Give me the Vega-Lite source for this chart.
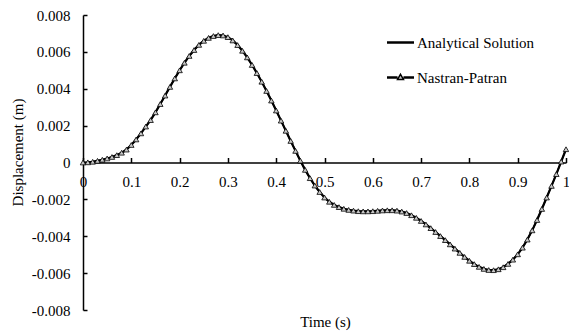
{
  "$schema": "https://vega.github.io/schema/vega-lite/v6.json",
  "width": 483,
  "height": 295,
  "autosize": {"type": "none"},
  "padding": {"left": 83, "top": 15, "right": 3, "bottom": 21},
  "background": "white",
  "config": {
    "view": {"stroke": null},
    "font": "Liberation Serif",
    "axis": {"labelFont": "Liberation Serif", "titleFont": "Liberation Serif", "labelFontSize": 15, "titleFontSize": 15, "labelColor": "black", "titleColor": "black", "titleFontWeight": "normal", "domainColor": "black", "tickColor": "black", "grid": false, "domainWidth": 1.5, "tickWidth": 1.5, "labelOverlap": false},
    "legend": {"labelFont": "Liberation Serif", "labelFontSize": 15, "labelColor": "black"}
  },
  "data": {"values": [
    {"t":0.00,"a":0,"n":0},
    {"t":0.01,"a":0.00001,"n":0.00001},
    {"t":0.02,"a":0.00004,"n":0.00004},
    {"t":0.03,"a":0.00009,"n":0.00009},
    {"t":0.04,"a":0.00015,"n":0.00015},
    {"t":0.05,"a":0.00022,"n":0.00022},
    {"t":0.06,"a":0.0003,"n":0.0003},
    {"t":0.07,"a":0.0004,"n":0.0004},
    {"t":0.08,"a":0.00053,"n":0.00053},
    {"t":0.09,"a":0.0007,"n":0.0007},
    {"t":0.10,"a":0.00095,"n":0.00095},
    {"t":0.11,"a":0.00125,"n":0.00125},
    {"t":0.12,"a":0.00158,"n":0.00158},
    {"t":0.13,"a":0.00195,"n":0.00195},
    {"t":0.14,"a":0.0023,"n":0.0023},
    {"t":0.15,"a":0.00272,"n":0.00272},
    {"t":0.16,"a":0.00317,"n":0.00317},
    {"t":0.17,"a":0.00363,"n":0.00363},
    {"t":0.18,"a":0.0041,"n":0.0041},
    {"t":0.19,"a":0.00456,"n":0.00456},
    {"t":0.20,"a":0.005,"n":0.005},
    {"t":0.21,"a":0.00541,"n":0.00541},
    {"t":0.22,"a":0.00578,"n":0.00578},
    {"t":0.23,"a":0.0061,"n":0.0061},
    {"t":0.24,"a":0.00638,"n":0.00638},
    {"t":0.25,"a":0.0066,"n":0.0066},
    {"t":0.26,"a":0.00676,"n":0.00676},
    {"t":0.27,"a":0.00686,"n":0.00686},
    {"t":0.28,"a":0.00691,"n":0.00691},
    {"t":0.29,"a":0.00689,"n":0.00689},
    {"t":0.30,"a":0.0068,"n":0.0068},
    {"t":0.31,"a":0.00662,"n":0.00662},
    {"t":0.32,"a":0.00637,"n":0.00637},
    {"t":0.33,"a":0.00606,"n":0.00606},
    {"t":0.34,"a":0.0057,"n":0.0057},
    {"t":0.35,"a":0.00529,"n":0.00529},
    {"t":0.36,"a":0.00485,"n":0.00485},
    {"t":0.37,"a":0.00438,"n":0.00438},
    {"t":0.38,"a":0.00388,"n":0.00388},
    {"t":0.39,"a":0.00336,"n":0.00336},
    {"t":0.40,"a":0.00282,"n":0.00282},
    {"t":0.41,"a":0.00227,"n":0.00227},
    {"t":0.42,"a":0.00172,"n":0.00172},
    {"t":0.43,"a":0.00117,"n":0.00117},
    {"t":0.44,"a":0.00063,"n":0.00063},
    {"t":0.45,"a":0.0001,"n":0.0001},
    {"t":0.46,"a":-0.0004,"n":-0.0004},
    {"t":0.47,"a":-0.00085,"n":-0.00085},
    {"t":0.48,"a":-0.00125,"n":-0.00125},
    {"t":0.49,"a":-0.0016,"n":-0.0016},
    {"t":0.50,"a":-0.0019,"n":-0.0019},
    {"t":0.51,"a":-0.00213,"n":-0.00213},
    {"t":0.52,"a":-0.0023,"n":-0.0023},
    {"t":0.53,"a":-0.00242,"n":-0.00242},
    {"t":0.54,"a":-0.00251,"n":-0.00251},
    {"t":0.55,"a":-0.00257,"n":-0.00257},
    {"t":0.56,"a":-0.00261,"n":-0.00261},
    {"t":0.57,"a":-0.00264,"n":-0.00264},
    {"t":0.58,"a":-0.00265,"n":-0.00265},
    {"t":0.59,"a":-0.00265,"n":-0.00265},
    {"t":0.60,"a":-0.00264,"n":-0.00264},
    {"t":0.61,"a":-0.00262,"n":-0.00262},
    {"t":0.62,"a":-0.0026,"n":-0.0026},
    {"t":0.63,"a":-0.00259,"n":-0.00259},
    {"t":0.64,"a":-0.00259,"n":-0.00259},
    {"t":0.65,"a":-0.00261,"n":-0.00261},
    {"t":0.66,"a":-0.00266,"n":-0.00266},
    {"t":0.67,"a":-0.00274,"n":-0.00274},
    {"t":0.68,"a":-0.00286,"n":-0.00286},
    {"t":0.69,"a":-0.003,"n":-0.003},
    {"t":0.70,"a":-0.00317,"n":-0.00317},
    {"t":0.71,"a":-0.00336,"n":-0.00336},
    {"t":0.72,"a":-0.00356,"n":-0.00356},
    {"t":0.73,"a":-0.00377,"n":-0.00377},
    {"t":0.74,"a":-0.00399,"n":-0.00399},
    {"t":0.75,"a":-0.00421,"n":-0.00421},
    {"t":0.76,"a":-0.00444,"n":-0.00444},
    {"t":0.77,"a":-0.00467,"n":-0.00467},
    {"t":0.78,"a":-0.0049,"n":-0.0049},
    {"t":0.79,"a":-0.00512,"n":-0.00512},
    {"t":0.80,"a":-0.00533,"n":-0.00533},
    {"t":0.81,"a":-0.00551,"n":-0.00551},
    {"t":0.82,"a":-0.00566,"n":-0.00566},
    {"t":0.83,"a":-0.00577,"n":-0.00577},
    {"t":0.84,"a":-0.00583,"n":-0.00583},
    {"t":0.85,"a":-0.00584,"n":-0.00584},
    {"t":0.86,"a":-0.00579,"n":-0.00579},
    {"t":0.87,"a":-0.00568,"n":-0.00568},
    {"t":0.88,"a":-0.0055,"n":-0.0055},
    {"t":0.89,"a":-0.00527,"n":-0.00527},
    {"t":0.90,"a":-0.00498,"n":-0.00498},
    {"t":0.91,"a":-0.00462,"n":-0.00462},
    {"t":0.92,"a":-0.00418,"n":-0.00418},
    {"t":0.93,"a":-0.00368,"n":-0.00368},
    {"t":0.94,"a":-0.00312,"n":-0.00312},
    {"t":0.95,"a":-0.00252,"n":-0.00252},
    {"t":0.96,"a":-0.0019,"n":-0.0019},
    {"t":0.97,"a":-0.00127,"n":-0.00127},
    {"t":0.98,"a":-0.00063,"n":-0.00063},
    {"t":0.99,"a":0.00005,"n":0.00005},
    {"t":1.00,"a":0.00072,"n":0.00072}
  ]},
  "transform": [{"fold": ["a", "n"], "as": ["series", "value"]}],
  "encoding": {
    "x": {"field": "t", "type": "quantitative",
      "scale": {"domain": [0, 1], "nice": false, "zero": false},
      "axis": {"title": "Time (s)", "offset": -147.5, "values": [0,0.1,0.2,0.3,0.4,0.5,0.6,0.7,0.8,0.9,1],
        "labelExpr": "datum.value + ''", "tickSize": -5, "labelPadding": 17, "labelFlush": false, "labelOverlap": false, "labelBound": false,
        "titleX": 242, "titleY": 159, "titleBaseline": "middle", "titleAnchor": "start", "titleAlign": "center"}},
    "y": {"field": "value", "type": "quantitative",
      "scale": {"domain": [-0.008, 0.008], "nice": false, "zero": false},
      "axis": {"title": "Displacement (m)", "values": [-0.008,-0.006,-0.004,-0.002,0,0.002,0.004,0.006,0.008],
        "labelExpr": "datum.value + ''", "tickSize": -4, "labelPadding": 17, "labelOverlap": false, "labelBound": false, "labelFlush": false,
        "titleX": -66, "titleY": 137, "titleBaseline": "middle", "titleAngle": -90, "titleAlign": "center", "titleAnchor": "start"}}
  },
  "layer": [
    {
      "transform": [{"filter": "datum.series == 'a'"}],
      "mark": {"type": "line", "color": "black", "strokeWidth": 2.2}
    },
    {
      "transform": [{"filter": "datum.series == 'n'"}],
      "mark": {"type": "line", "color": "black", "strokeWidth": 1.5}
    },
    {
      "transform": [{"filter": "datum.series == 'n'"}],
      "mark": {"type": "point", "shape": "triangle-up", "filled": true, "fill": "#c8c8c8", "stroke": "black", "strokeWidth": 0.8, "size": 30, "opacity": 1}
    },
    {
      "transform": [{"filter": "datum.t > 5"}],
      "mark": {"type": "point", "filled": false, "fill": "#c8c8c8", "strokeWidth": 1.5, "opacity": 1},
      "encoding": {
        "color": {"field": "series", "type": "nominal",
          "scale": {"domain": ["a", "n"], "range": ["black", "black"]},
          "legend": {"title": null, "orient": "none", "legendX": 303, "legendY": 13, "padding": 0, "symbolSize": 729, "labelOffset": 2, "rowPadding": 12,
            "symbolStrokeWidth": 1.5,
            "labelExpr": "datum.label == 'a' ? 'Analytical Solution' : 'Nastran-Patran'"}},
        "shape": {"field": "series", "type": "nominal",
          "scale": {"domain": ["a", "n"], "range": ["M-1,-0.04H1M-1,0.04H1", "M-1,-0.04H-0.22M-1,0.04H-0.22M0.22,-0.04H1M0.22,0.04H1M0,-0.24L0.22,0.14L-0.22,0.14Z"]},
          "legend": {"title": null, "orient": "none", "legendX": 303, "legendY": 13, "padding": 0, "symbolSize": 729, "labelOffset": 2, "rowPadding": 12,
            "symbolStrokeWidth": 1.5,
            "labelExpr": "datum.label == 'a' ? 'Analytical Solution' : 'Nastran-Patran'"}}
      }
    }
  ]
}
